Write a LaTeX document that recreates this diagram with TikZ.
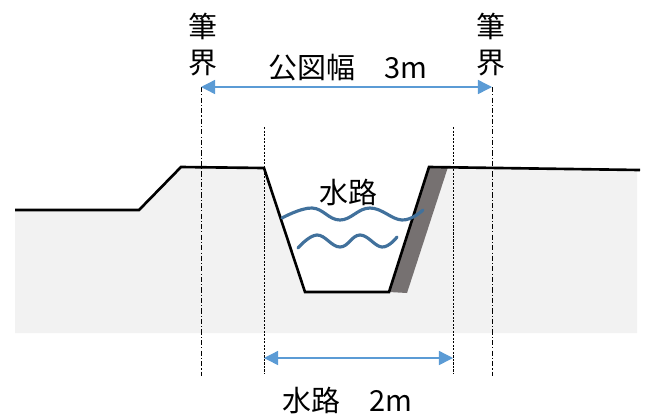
\documentclass[tikz,border=0pt]{standalone}
\usepackage{fontspec}
\setmainfont{Noto Sans CJK JP}
\usetikzlibrary{arrows.meta}
\definecolor{dimblue}{HTML}{5B9BD5}
\definecolor{waveblue}{HTML}{41719C}
\definecolor{soil}{HTML}{F2F2F2}
\definecolor{wallgray}{HTML}{767171}
\begin{document}
\begin{tikzpicture}[
  x=0.02cm, y=-0.02cm,
  ground/.style={line width=1.5pt, line join=miter},
  boundary/.style={line width=0.5pt, dash pattern=on 3pt off 1.2pt on 0.6pt off 1.2pt},
  rimline/.style={line width=0.5pt, dash pattern=on 1.2pt off 0.8pt},
  dimline/.style={{Triangle[length=8pt,width=8pt]}-{Triangle[length=8pt,width=8pt]}, dimblue, line width=0.8pt},
  wave/.style={waveblue, line width=1.8pt, line cap=round},
  jptext/.style={font=\fontsize{16.5}{20.5}\selectfont, inner sep=0pt, align=center}
]
\useasboundingbox (0,0) rectangle (648,417);

% soil and trench
\fill[soil] (15,210) -- (139,210) -- (181,167) -- (264,168) -- (305,292) -- (389,292)
  -- (429,167) -- (637,170) -- (637,333) -- (15,333) -- cycle;
\fill[wallgray] (429,167) -- (448,167) -- (407,293) -- (389,292) -- cycle;
\draw[ground] (15,210) -- (139,210) -- (181,167) -- (264,168) -- (305,292) -- (389,292)
  -- (429,167) -- (640,170);

% water
\draw[wave] plot[smooth, tension=0.7] coordinates {(282,218) (312,208) (340,220) (370,208) (402,220) (423,210)};
\draw[wave] plot[smooth, tension=0.7] coordinates {(298,248) (317,235) (340,247) (360,235) (382,247) (397,237)};

% boundary lines
\draw[boundary] (201,87) -- (201,376);
\draw[boundary] (492,87) -- (492,376);
\draw[rimline] (264,127) -- (264,374);
\draw[rimline] (453,127) -- (453,374);

% labels
\node[jptext] (penL) at (203,45) {筆\\界};
\node[jptext] (penR) at (491,45) {筆\\界};
\node[jptext] (mapwidth) at (348,68) {公図幅　3m};
\node[jptext] (canal) at (348,192) {水路};
\node[jptext] (canalwidth) at (347,400) {水路　2m};

% dimensions
\coordinate (mapL) at (201,87);
\coordinate (mapR) at (492,87);
\coordinate (canalL) at (264,358);
\coordinate (canalR) at (453,358);
\draw[dimline] (mapL) -- (mapR);
\draw[dimline] (canalL) -- (canalR);
\end{tikzpicture}
\end{document}
